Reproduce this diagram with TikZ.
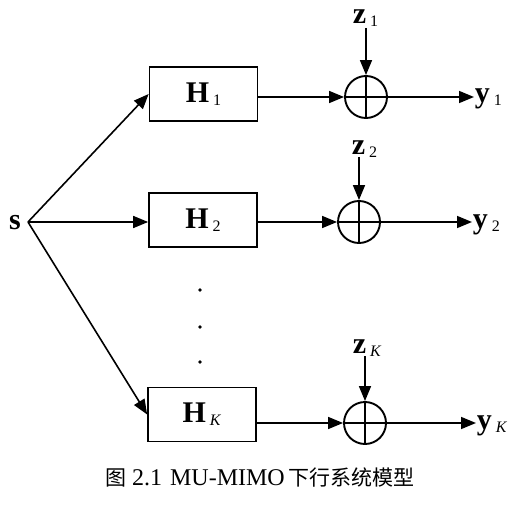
\documentclass[tikz,border=0pt]{standalone}
\usepackage{fontspec}
\setmainfont{Liberation Serif}
\newfontfamily\cjk{Noto Sans CJK SC}
\usetikzlibrary{arrows.meta}
\newcommand{\lbl}[2]{\textbf{#1}\hspace{4pt}\raisebox{-3pt}{\fontsize{16}{16}\selectfont #2}}
\begin{document}
\begin{tikzpicture}[x=1pt,y=-1pt,
  line width=1.6pt,
  arr/.style={-{Triangle[length=15pt,width=12pt]}},
  hbox/.style={draw,line width=1.7pt,minimum width=108pt,minimum height=54pt,inner sep=0pt,font=\fontsize{30}{30}\selectfont},
  sumnode/.style={draw,circle,line width=1.9pt,minimum size=42pt,inner sep=0pt},
  txt/.style={inner sep=0pt,font=\fontsize{30}{30}\selectfont},
  dotn/.style={fill,circle,inner sep=0pt,minimum size=3.6pt}]
\useasboundingbox (0,0) rectangle (514,508);
% source
\node[txt,anchor=base] (s) at (15,229) {\textbf{s}};
\coordinate (so) at (28,222);
% channel boxes
\node[hbox] (H1) at (203.5,94) {\lbl{H}{1}};
\node[hbox] (H2) at (203,220) {\lbl{H}{2}};
\node[hbox] (HK) at (202,414.5) {\lbl{H}{\textit{K}}};
% summing nodes
\node[sumnode] (c1) at (366,97) {};
\node[sumnode] (c2) at (359,222) {};
\node[sumnode] (cK) at (365,423) {};
\foreach \c in {c1,c2,cK}{
  \draw[line width=1.6pt] (\c.north) -- (\c.south);
  \draw[line width=1.6pt] (\c.west) -- (\c.east);
}
% noise labels
\node[txt,anchor=base west] (z1) at (352,24) {\lbl{z}{1}};
\node[txt,anchor=base west] (z2) at (351,154) {\lbl{z}{2}};
\node[txt,anchor=base west] (zK) at (352,353) {\lbl{z}{\textit{K}}};
\coordinate (zt1) at (366,28);
\coordinate (zt2) at (359,157);
\coordinate (ztK) at (365,356);
% outputs
\node[txt,anchor=base west] (y1) at (474,103) {\lbl{y}{1}};
\node[txt,anchor=base west] (y2) at (472,228) {\lbl{y}{2}};
\node[txt,anchor=base west] (yK) at (476,429) {\lbl{y}{\textit{K}}};
% dots
\node[dotn] (d1) at (200,290) {};
\node[dotn] (d2) at (200,327) {};
\node[dotn] (d3) at (200,362) {};
% connectors
\draw[arr] (so) -- (H1.west);
\draw[arr] (so) -- (so -| H2.west);
\draw[arr] (so) -- (HK.west);
\draw[arr] (H1.east |- c1) -- (c1.west);
\draw[arr] (H2.east |- c2) -- (c2.west);
\draw[arr] (HK.east |- cK) -- (cK.west);
\draw[arr] (zt1) -- (c1.north);
\draw[arr] (zt2) -- (c2.north);
\draw[arr] (ztK) -- (cK.north);
\draw[arr] (c1.east) -- (c1.east -| y1.west);
\draw[arr] (c2.east) -- (c2.east -| y2.west);
\draw[arr] (cK.east) -- (cK.east -| yK.west);
% caption
\node[inner sep=0pt] (cap) at (260,478) {{\cjk\fontsize{21}{21}\selectfont 图}\hspace{6pt}{\fontsize{24}{24}\selectfont 2.1\hspace{8pt}MU-MIMO}\hspace{4pt}{\cjk\fontsize{21}{21}\selectfont 下行系统模型}};
\end{tikzpicture}
\end{document}
